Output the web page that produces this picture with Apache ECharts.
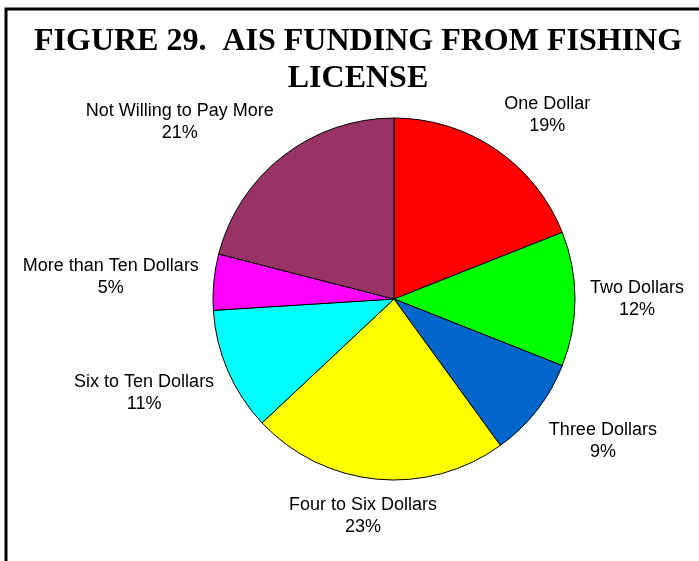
<!DOCTYPE html>
<html>
<head>
<meta charset="utf-8">
<script src="https://cdn.jsdelivr.net/npm/echarts@6/dist/echarts.min.js"></script>
<style>
  html, body { margin: 0; padding: 0; background: #fff; }
  #chart { width: 699px; height: 561px; }
</style>
</head>
<body>
<div id="chart"></div>
<script>
const categories = [
  'One Dollar', 'Two Dollars', 'Three Dollars', 'Four to Six Dollars',
  'Six to Ten Dollars', 'More than Ten Dollars', 'Not Willing to Pay More'
];
const shares = [19, 12, 9, 23, 11, 5, 21];
const sliceColors = ['#ff0000', '#00ff00', '#0066cc', '#ffff00', '#00ffff', '#ff00ff', '#993366'];

const center = [394, 299];
const radius = 181;
const labelGap = 15;

const total = shares.reduce((a, b) => a + b, 0);
// mid angle of each slice, clockwise from 12 o'clock
const midAngles = shares.map((v, i) => {
  const before = shares.slice(0, i).reduce((a, b) => a + b, 0);
  return (before + v / 2) / total * 2 * Math.PI;
});

const clamp = v => Math.max(-1, Math.min(1, v));

const chart = echarts.init(document.getElementById('chart'));
chart.setOption({
  animation: false,
  backgroundColor: '#fff',
  title: {
    text: 'FIGURE 29.  AIS FUNDING FROM FISHING\nLICENSE',
    left: 353,
    top: 18,
    textAlign: 'center',
    textStyle: {
      fontFamily: 'Liberation Serif',
      fontWeight: 'bold',
      fontSize: 32,
      lineHeight: 37,
      color: '#000'
    }
  },
  graphic: [{
    type: 'rect',
    shape: { x: 6, y: 9, width: 1000, height: 1000 },
    style: { fill: 'none', stroke: '#000', lineWidth: 3 },
    silent: true
  }],
  series: [{
    type: 'pie',
    center: center,
    radius: radius,
    startAngle: 90,
    clockwise: true,
    silent: true,
    data: categories.map((name, i) => ({
      name: name,
      value: shares[i],
      itemStyle: { color: sliceColors[i] }
    })),
    itemStyle: { borderColor: '#000', borderWidth: 1 },
    label: {
      show: true,
      position: 'outside',
      formatter: p => p.name + '\n' + Math.round(p.percent) + '%',
      fontFamily: 'Liberation Sans',
      fontSize: 18,
      lineHeight: 22,
      color: '#000',
      align: 'center',
      overflow: 'none',
      edgeDistance: 0,
      bleedMargin: 0
    },
    labelLine: { show: false },
    labelLayout: params => {
      const a = midAngles[params.dataIndex];
      const dx = Math.sin(a), dy = -Math.cos(a);
      const w = params.labelRect.width, h = params.labelRect.height;
      const r = radius + labelGap;
      return {
        x: center[0] + dx * r + clamp(dx * 1.8) * w / 2,
        y: center[1] + dy * r + clamp(dy * 1.8) * h / 2,
        align: 'center',
        verticalAlign: 'middle'
      };
    }
  }]
});
</script>
</body>
</html>
